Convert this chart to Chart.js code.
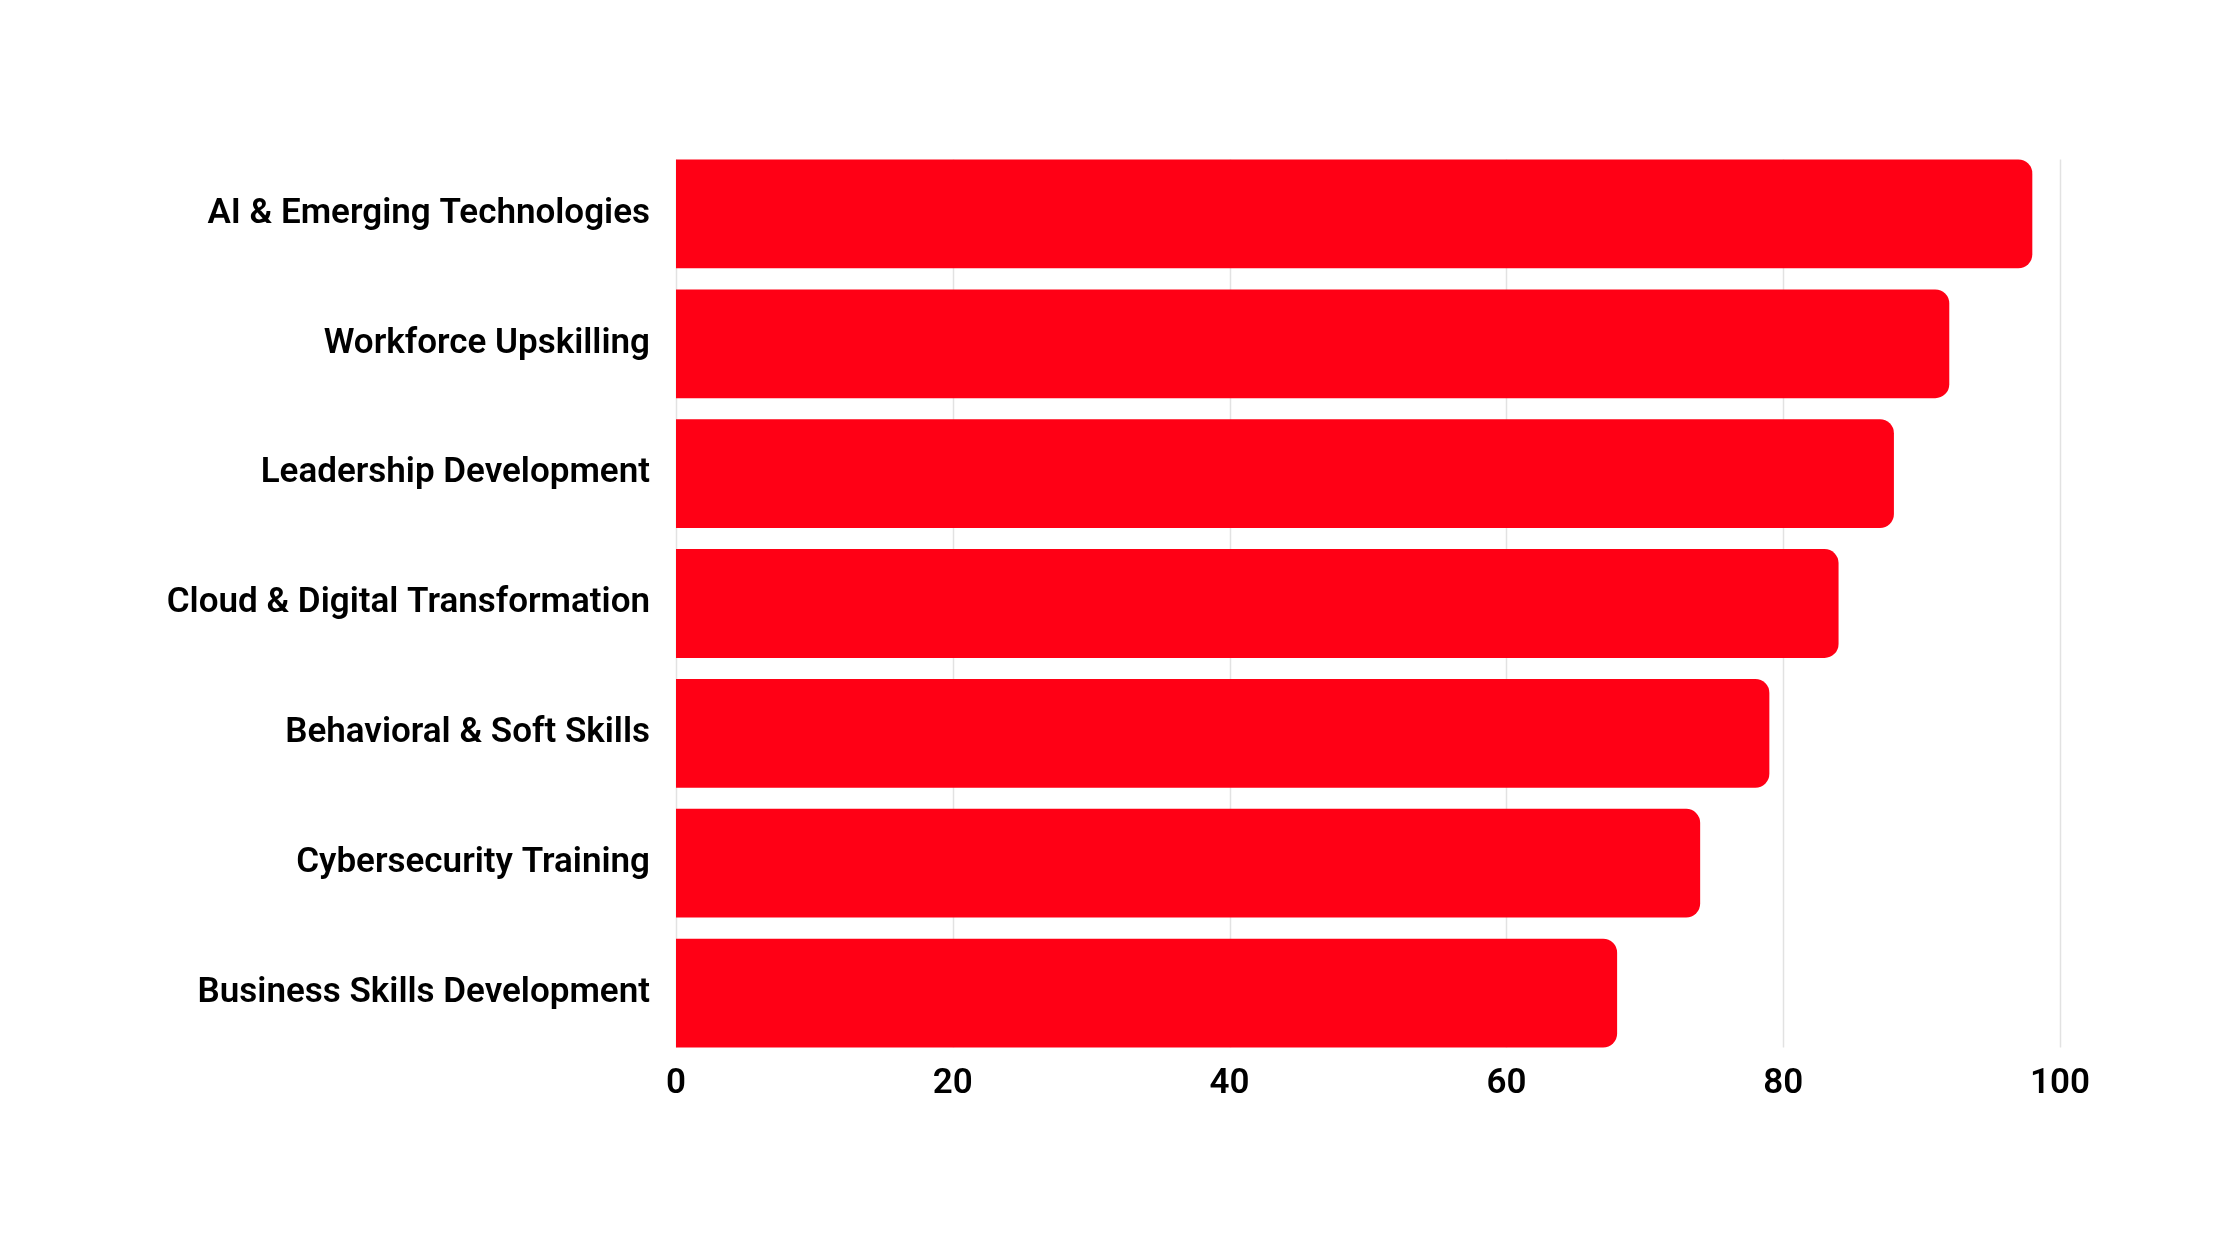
<!DOCTYPE html>
<html>
<head>
<meta charset="utf-8">
<script src="https://cdn.jsdelivr.net/npm/chart.js@4.4.1/dist/chart.umd.min.js"></script>
<style>
  html, body { margin: 0; padding: 0; background: #fff; }
  #wrap { width: 2240px; height: 1260px; }
</style>
</head>
<body>
<div id="wrap"><canvas id="myChart"></canvas></div>
<script>
// data
const categories = [
    'AI & Emerging Technologies',
    'Workforce Upskilling',
    'Leadership Development',
    'Cloud & Digital Transformation',
    'Behavioral & Soft Skills',
    'Cybersecurity Training',
    'Business Skills Development'
];
const values = [98, 92, 88, 84, 79, 74, 68];
const xTicks = [0, 20, 40, 60, 80, 100];

Chart.defaults.font.family = 'Roboto';
Chart.defaults.font.weight = 600;
Chart.defaults.color = '#000';

// vertical grid lines only between the top of the first bar and the bottom of the last one
const barGrid = {
    id: 'barGrid',
    beforeDatasetsDraw(chart) {
        const bars = chart.getDatasetMeta(0).data;
        if (!bars.length) return;
        const x = chart.scales.x;
        const first = bars[0], last = bars[bars.length - 1];
        const top = first.y - first.height / 2;
        const bottom = last.y + last.height / 2;
        const ctx = chart.ctx;
        ctx.save();
        ctx.strokeStyle = '#e2e2e2';
        ctx.lineWidth = 1.5;
        xTicks.forEach(t => {
            const px = Math.round(x.getPixelForValue(t)) + 0.5;
            ctx.beginPath();
            ctx.moveTo(px, top);
            ctx.lineTo(px, bottom);
            ctx.stroke();
        });
        ctx.restore();
    }
};

const ctx = document.getElementById('myChart');
new Chart(ctx, {
    type: 'bar',
    data: {
        labels: categories,
        datasets: [{
            data: values,
            backgroundColor: '#ff0015',
            borderRadius: 14,
            borderSkipped: 'start',
            categoryPercentage: 1,
            barPercentage: 0.838
        }]
    },
    options: {
        indexAxis: 'y',
        responsive: true,
        maintainAspectRatio: false,
        animation: false,
        layout: {
            padding: { left: 0, right: 180, top: 149, bottom: 142 }
        },
        plugins: {
            legend: { display: false },
            tooltip: { enabled: false }
        },
        scales: {
            x: {
                min: 0,
                max: 100,
                afterBuildTicks: scale => {
                    scale.ticks = xTicks.map(v => ({ value: v }));
                },
                afterFit: scale => { scale.height = 60; },
                grid: { display: false },
                border: { display: false },
                ticks: {
                    padding: -3,
                    font: { size: 35, weight: 600 }
                }
            },
            y: {
                afterFit: scale => { scale.width = 676; },
                grid: { display: false },
                border: { display: false },
                ticks: {
                    padding: 18,
                    font: { size: 35, weight: 600 }
                }
            }
        }
    },
    plugins: [barGrid]
});
</script>
</body>
</html>
